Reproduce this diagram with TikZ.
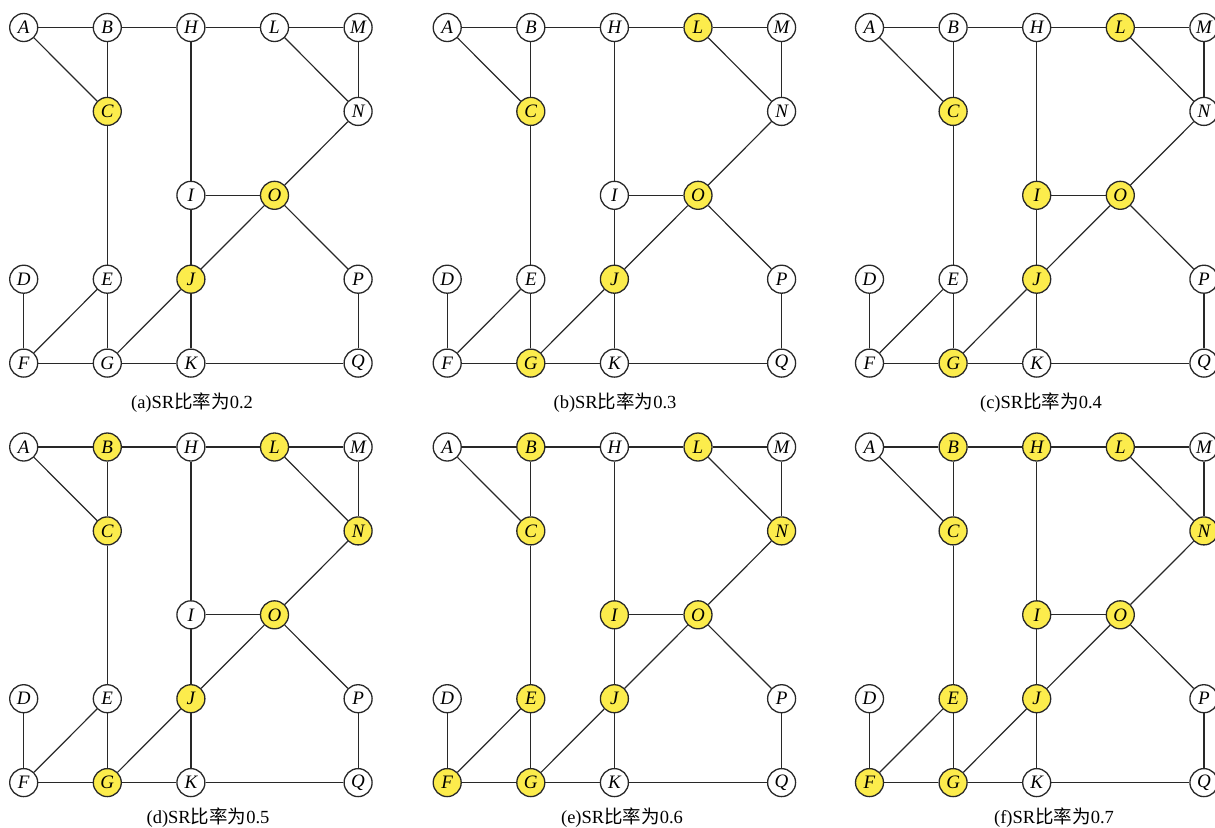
\documentclass[tikz,border=0pt]{standalone}
\usepackage{fontspec}
\setmainfont{Liberation Serif}
\newfontfamily\cjk{Noto Sans CJK SC}
\definecolor{nodeyellow}{RGB}{252,236,76}
\definecolor{edgegray}{RGB}{40,40,40}
\tikzset{
  gnode/.style={circle,draw=edgegray,line width=0.65pt,fill=white,minimum size=14pt,inner sep=0pt,
    font=\itshape\fontsize{9.5}{10}\selectfont},
  hl/.style={fill=nodeyellow},
  edge/.style={draw=edgegray,line width=0.6pt},
  captxt/.style={anchor=base,inner sep=0pt,font=\fontsize{9.25}{10}\selectfont},
  nA/.style={},nB/.style={},nC/.style={},nD/.style={},nE/.style={},nF/.style={},
  nG/.style={},nH/.style={},nI/.style={},nJ/.style={},nK/.style={},nL/.style={},
  nM/.style={},nN/.style={},nO/.style={},nP/.style={},nQ/.style={}
}
\newcommand{\drawgraph}[1]{%
  \node[gnode,nA] (#1A) at (23.7,27.5) {A};
  \node[gnode,nB] (#1B) at (107.3,27.5) {B};
  \node[gnode,nH] (#1H) at (190.9,27.5) {H};
  \node[gnode,nL] (#1L) at (274.5,27.5) {L};
  \node[gnode,nM] (#1M) at (358.1,27.5) {M};
  \node[gnode,nC] (#1C) at (107.3,111.4) {C};
  \node[gnode,nN] (#1N) at (358.1,111.4) {N};
  \node[gnode,nI] (#1I) at (190.9,195.3) {I};
  \node[gnode,nO] (#1O) at (274.5,195.3) {O};
  \node[gnode,nD] (#1D) at (23.7,279.2) {D};
  \node[gnode,nE] (#1E) at (107.3,279.2) {E};
  \node[gnode,nJ] (#1J) at (190.9,279.2) {J};
  \node[gnode,nP] (#1P) at (358.1,279.2) {P};
  \node[gnode,nF] (#1F) at (23.7,363.1) {F};
  \node[gnode,nG] (#1G) at (107.3,363.1) {G};
  \node[gnode,nK] (#1K) at (190.9,363.1) {K};
  \node[gnode,nQ] (#1Q) at (358.1,363.1) {Q};
  \draw[edge] (#1A) -- (#1B);
  \draw[edge] (#1B) -- (#1H);
  \draw[edge] (#1H) -- (#1L);
  \draw[edge] (#1L) -- (#1M);
  \draw[edge] (#1A) -- (#1C);
  \draw[edge] (#1B) -- (#1C);
  \draw[edge] (#1L) -- (#1N);
  \draw[edge] (#1M) -- (#1N);
  \draw[edge] (#1C) -- (#1E);
  \draw[edge] (#1H) -- (#1I);
  \draw[edge] (#1I) -- (#1O);
  \draw[edge] (#1N) -- (#1O);
  \draw[edge] (#1I) -- (#1J);
  \draw[edge] (#1J) -- (#1O);
  \draw[edge] (#1G) -- (#1J);
  \draw[edge] (#1O) -- (#1P);
  \draw[edge] (#1P) -- (#1Q);
  \draw[edge] (#1K) -- (#1Q);
  \draw[edge] (#1F) -- (#1G);
  \draw[edge] (#1G) -- (#1K);
  \draw[edge] (#1D) -- (#1F);
  \draw[edge] (#1E) -- (#1F);
  \draw[edge] (#1E) -- (#1G);
  \draw[edge] (#1J) -- (#1K);
}
\begin{document}
\begin{tikzpicture}[x=0.5pt,y=-0.5pt]
\useasboundingbox (0,0) rectangle (1215,827);
\clip (0,0) rectangle (1215,827);
\begin{scope}[shift={(0,0)},nC/.style=hl,nO/.style=hl,nJ/.style=hl]
  \drawgraph{a}
\end{scope}
\begin{scope}[shift={(423.5,0)},nL/.style=hl,nC/.style=hl,nO/.style=hl,nJ/.style=hl,nG/.style=hl]
  \drawgraph{b}
\end{scope}
\begin{scope}[shift={(845.8,0)},nL/.style=hl,nC/.style=hl,nI/.style=hl,nO/.style=hl,nJ/.style=hl,nG/.style=hl]
  \drawgraph{c}
\end{scope}
\begin{scope}[shift={(0,419.5)},nB/.style=hl,nL/.style=hl,nC/.style=hl,nN/.style=hl,nO/.style=hl,nJ/.style=hl,nG/.style=hl]
  \drawgraph{d}
\end{scope}
\begin{scope}[shift={(423.5,419.5)},nB/.style=hl,nL/.style=hl,nC/.style=hl,nN/.style=hl,nI/.style=hl,nO/.style=hl,nE/.style=hl,nJ/.style=hl,nF/.style=hl,nG/.style=hl]
  \drawgraph{e}
\end{scope}
\begin{scope}[shift={(845.8,419.5)},nB/.style=hl,nH/.style=hl,nL/.style=hl,nC/.style=hl,nN/.style=hl,nI/.style=hl,nO/.style=hl,nE/.style=hl,nJ/.style=hl,nF/.style=hl,nG/.style=hl]
  \drawgraph{f}
\end{scope}
\node[captxt] (capa) at (192,408.5) {(a)SR{\cjk 比率为}0.2};
\node[captxt] (capb) at (615,408.5) {(b)SR{\cjk 比率为}0.3};
\node[captxt] (capc) at (1041,408.5) {(c)SR{\cjk 比率为}0.4};
\node[captxt] (capd) at (208,823) {(d)SR{\cjk 比率为}0.5};
\node[captxt] (cape) at (622,823) {(e)SR{\cjk 比率为}0.6};
\node[captxt] (capf) at (1054,823) {(f)SR{\cjk 比率为}0.7};
\end{tikzpicture}
\end{document}
